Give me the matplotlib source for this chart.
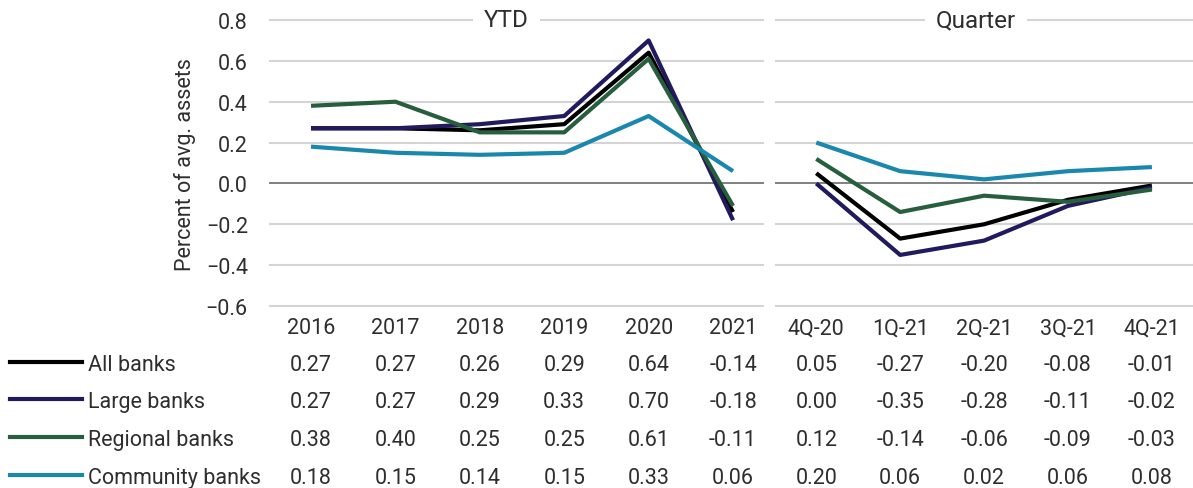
import matplotlib.pyplot as plt
from matplotlib import transforms
from matplotlib.lines import Line2D

years = ['2016', '2017', '2018', '2019', '2020', '2021']
quarters = ['4Q-20', '1Q-21', '2Q-21', '3Q-21', '4Q-21']
names = ['All banks', 'Large banks', 'Regional banks', 'Community banks']

all_ytd = [0.27, 0.27, 0.26, 0.29, 0.64, -0.14]
large_ytd = [0.27, 0.27, 0.29, 0.33, 0.70, -0.18]
regional_ytd = [0.38, 0.40, 0.25, 0.25, 0.61, -0.11]
community_ytd = [0.18, 0.15, 0.14, 0.15, 0.33, 0.06]

all_q = [0.05, -0.27, -0.20, -0.08, -0.01]
large_q = [0.00, -0.35, -0.28, -0.11, -0.02]
regional_q = [0.12, -0.14, -0.06, -0.09, -0.03]
community_q = [0.20, 0.06, 0.02, 0.06, 0.08]

ytd = [all_ytd, large_ytd, regional_ytd, community_ytd]
qtr = [all_q, large_q, regional_q, community_q]
colors = ['#000000', '#211a5e', '#275e3d', '#1a87ad']

plt.rcParams['font.family'] = ['Roboto', 'DejaVu Sans']
txt = '#2e2e2e'
fs = 15.5

W, H = 1193, 489
fig = plt.figure(figsize=(W / 100, H / 100), dpi=100)

def fy(py):
    return 1 - py / H

top, bottom = 21, 307
rows_y = [363, 400, 438, 476]
ax1 = fig.add_axes([270 / W, fy(bottom), 493 / W, (bottom - top) / H])
ax2 = fig.add_axes([776 / W, fy(bottom), 417 / W, (bottom - top) / H])

yt = [-0.6, -0.4, -0.2, 0.0, 0.2, 0.4, 0.6, 0.8]
for ax, cats, data, lims, title in [
        (ax1, years, ytd, (-0.486, 5.355), 'YTD'),
        (ax2, quarters, qtr, (-0.48, 4.49), 'Quarter')]:
    x = list(range(len(cats)))
    for vals, c in zip(data, colors):
        ax.plot(x, vals, color=c, lw=3.0, solid_capstyle='butt', zorder=3)
    ax.set_xlim(*lims)
    ax.set_ylim(-0.6, 0.8)
    ax.set_yticks(yt)
    for v in yt:
        if v == 0:
            ax.axhline(v, color='#808080', lw=1.4, zorder=2, clip_on=False)
        else:
            ax.axhline(v, color='#d4d4d4', lw=1.5, zorder=1, clip_on=False)
    for s in ax.spines.values():
        s.set_visible(False)
    ax.set_xticks(x)
    ax.set_xticklabels(cats)
    ax.tick_params(length=0, labelsize=fs, labelcolor=txt, pad=8)
    ax.text(0.48, 1.0, title, transform=ax.transAxes, ha='center', va='center',
            fontsize=fs + 2, color=txt, zorder=4,
            bbox=dict(facecolor='white', edgecolor='none', pad=8))
    # table values below the axis
    tr = transforms.blended_transform_factory(ax.transData, fig.transFigure)
    for vals, py in zip(data, rows_y):
        for xi, v in zip(x, vals):
            ax.text(xi, fy(py), f'{v:.2f}', transform=tr, ha='center',
                    va='center_baseline', fontsize=fs, color=txt)

ax1.set_yticklabels([f'{v:.1f}'.replace('-', '\u2212') for v in yt])
ax1.tick_params(axis='y', pad=16)
ax2.tick_params(axis='y', labelleft=False)

fig.text(185 / W, fy(165), 'Percent of avg. assets', rotation=90, ha='center',
         va='center', fontsize=fs, color=txt)

for name, c, py in zip(names, colors, rows_y):
    fig.add_artist(Line2D([10 / W, 82 / W], [fy(py), fy(py)], color=c, lw=3.0,
                          transform=fig.transFigure))
    fig.text(88 / W, fy(py), name, ha='left', va='center_baseline', fontsize=fs,
             color=txt)

fig.savefig('out.png', dpi=100)
